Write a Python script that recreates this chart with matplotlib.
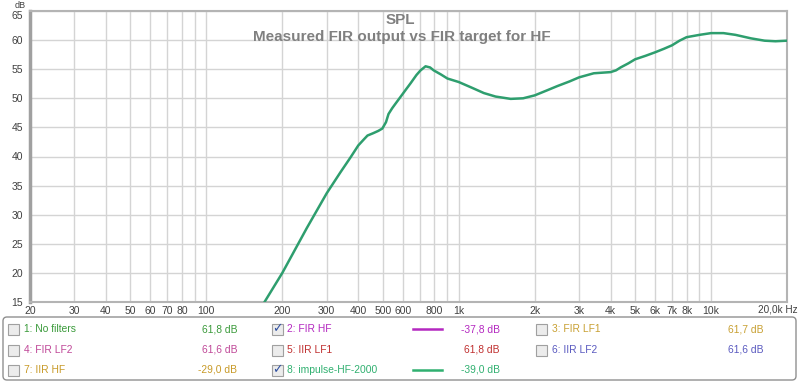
import numpy as np
import matplotlib.pyplot as plt
from matplotlib.patches import Rectangle, FancyBboxPatch


# -----------------------------
# Data read off the measurement
# -----------------------------
freq_hz = [170, 200, 250, 300, 340, 372, 400, 420, 435, 458, 480, 498, 515,
           527, 545, 560, 587, 620, 645, 680, 706, 739, 770, 796, 850, 902,
           1000, 1130, 1258, 1400, 1607, 1800, 2000, 2220, 2460, 2750, 3000,
           3430, 3700, 4000, 4200, 4380, 4700, 5000, 5500, 6000, 6500, 7000,
           7500, 8000, 9000, 10000, 11200, 12500, 14400, 16300, 18000, 20000]
spl_db = [15.0, 20.0, 27.7, 33.7, 37.3, 39.8, 41.9, 42.9, 43.6, 44.0, 44.4,
          44.8, 45.9, 47.3, 48.3, 49.0, 50.2, 51.6, 52.6, 54.0, 54.8, 55.5,
          55.3, 54.8, 54.1, 53.4, 52.8, 51.8, 50.9, 50.3, 49.9, 50.0, 50.5,
          51.3, 52.1, 52.9, 53.6, 54.3, 54.4, 54.5, 54.8, 55.3, 56.0, 56.7,
          57.3, 57.9, 58.5, 59.1, 59.9, 60.5, 60.9, 61.2, 61.2, 60.9, 60.3,
          59.9, 59.8, 59.9]

x_ticks = [20, 30, 40, 50, 60, 70, 80, 100, 200, 300, 400, 500, 600, 800,
           1000, 2000, 3000, 4000, 5000, 6000, 7000, 8000, 10000]
x_tick_labels = ["20", "30", "40", "50", "60", "70", "80", "100", "200", "300",
                 "400", "500", "600", "800", "1k", "2k", "3k", "4k", "5k", "6k",
                 "7k", "8k", "10k"]
x_end_label = "20,0k Hz"
y_ticks = [15, 20, 25, 30, 35, 40, 45, 50, 55, 60, 65]

legend_names = ["1: No filters", "2: FIR HF", "3: FIR LF1",
                "4: FIR LF2", "5: IIR LF1", "6: IIR LF2",
                "7: IIR HF", "8: impulse-HF-2000", None]
legend_values = ["61,8 dB", "-37,8 dB", "61,7 dB",
                 "61,6 dB", "61,8 dB", "61,6 dB",
                 "-29,0 dB", "-39,0 dB", None]
legend_colors = ["#3a9a3a", "#b428c0", "#c8a032",
                 "#c04898", "#c03030", "#5a5ac0",
                 "#c89a28", "#30b070", None]
legend_checked = [False, True, False,
                  False, False, False,
                  False, True, False]

line_color = "#2e9e6e"
grid_color = "#d4d4d4"
text_color = "#404040"
title_color = "#808080"

W, H = 800, 383
plt.rcParams["font.family"] = ["Liberation Sans", "DejaVu Sans"]

fig = plt.figure(figsize=(W / 100, H / 100), dpi=100)

# -----------------------------
# Main plot
# -----------------------------
left, right, top, bottom = 30, 787, 11, 302
ax = fig.add_axes([left / W, 1 - bottom / H, (right - left) / W, (bottom - top) / H])
ax.set_xscale("log")
ax.set_xlim(20, 20000)
ax.set_ylim(15, 65)

# all 1..9 grid lines per decade
grid_x = [m * 10**d for d in range(1, 5) for m in range(1, 10)]
grid_x = [g for g in grid_x if 20 <= g <= 20000]
for g in grid_x:
    ax.axvline(g, color=grid_color, lw=1, zorder=0)
for yv in y_ticks:
    ax.axhline(yv, color=grid_color, lw=1, zorder=0)

ax.plot(freq_hz, spl_db, color=line_color, lw=1.8, zorder=3,
        solid_joinstyle="round")

ax.set_xticks(x_ticks)
ax.set_xticklabels(x_tick_labels)
ax.xaxis.set_minor_locator(plt.NullLocator())
ax.set_yticks(y_ticks)
ax.tick_params(length=0, labelsize=7.5, colors=text_color, pad=3)
ax.tick_params(axis="y", pad=5)
ax.get_yticklabels()[-1].set_va("top")

for s in ["top", "right", "bottom"]:
    ax.spines[s].set_color("#b4b4b4")
    ax.spines[s].set_linewidth(1.5)
ax.spines["left"].set_color("#a0a0a0")
ax.spines["left"].set_linewidth(2.5)

# -----------------------------
# Overlay in pixel coordinates (titles, legend)
# -----------------------------
ov = fig.add_axes([0, 0, 1, 1], facecolor="none")
ov.set_xlim(0, W)
ov.set_ylim(H, 0)
ov.axis("off")

ov.text(798, 310, x_end_label, fontsize=7.2, color=text_color,
        ha="right", va="center")
ov.text(20, 1, "dB", fontsize=6.5, color=text_color, ha="center", va="top")
ov.text(400, 20, "SPL", fontsize=11, fontweight="bold", color=title_color,
        ha="center", va="center")
ov.text(402, 37, "Measured FIR output vs FIR target for HF", fontsize=11,
        fontweight="bold", color=title_color, ha="center", va="center")

ov.add_patch(FancyBboxPatch((3, 317), 793, 63, boxstyle="round,pad=0,rounding_size=4",
                            fc="white", ec="#909090", lw=1))

row_y = [329, 350, 370]
col_box = [13.5, 277, 541]
col_text = [24, 287, 552]
col_val = [237, 500, 763]
col_line = [None, (413, 442), None]

for i, name in enumerate(legend_names):
    if name is None:
        continue
    r, c = divmod(i, 3)
    y = row_y[r]
    ov.add_patch(Rectangle((col_box[c] - 5.5, y - 5.5), 11, 11,
                           fc="#ececec", ec="#a0a0a0", lw=0.8))
    if legend_checked[i]:
        ov.text(col_box[c], y, "\u2713", fontsize=9, color="#3050a0",
                ha="center", va="center", family="DejaVu Sans")
    ov.text(col_text[c], y, name, fontsize=7.4, color=legend_colors[i],
            ha="left", va="center")
    ov.text(col_val[c], y, legend_values[i], fontsize=7.4, color=legend_colors[i],
            ha="right", va="center")
    if legend_checked[i] and col_line[c] is not None:
        x0, x1 = col_line[c]
        ov.plot([x0, x1], [y, y], color=legend_colors[i], lw=1.8)

fig.savefig("out.png", dpi=100)
